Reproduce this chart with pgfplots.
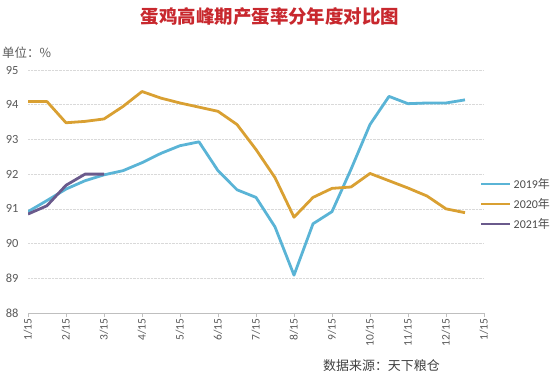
\documentclass[border=0pt]{standalone}
\usepackage{fontspec}
\usepackage{pgfplots}
\usepackage{pgfplotstable}
\pgfplotsset{compat=1.18}
\setmainfont{Carlito}
\newfontfamily\cjk{Noto Sans CJK SC}
\definecolor{c2019}{HTML}{5AB4D6}
\definecolor{c2020}{HTML}{D9A032}
\definecolor{c2021}{HTML}{6A5A8C}
\definecolor{titlered}{HTML}{C8282E}
\definecolor{labelgray}{HTML}{595959}
\definecolor{axisgray}{HTML}{BFBFBF}
\definecolor{gridgray}{HTML}{D9D9D9}

\pgfplotstableread{
m v
0 90.92
0.5 91.24
1 91.57
1.5 91.81
2 91.98
2.5 92.10
3 92.33
3.5 92.60
4 92.82
4.5 92.93
5 92.10
5.5 91.55
6 91.33
6.5 90.48
7 89.09
7.5 90.57
8 90.92
8.5 92.14
9 93.43
9.5 94.24
10 94.03
10.5 94.05
11 94.05
11.5 94.14
}\tabA
\pgfplotstableread{
m v
0 94.09
0.5 94.09
1 93.48
1.5 93.52
2 93.59
2.5 93.95
3 94.38
3.5 94.19
4 94.05
4.5 93.93
5 93.81
5.5 93.43
6 92.71
6.5 91.90
7 90.76
7.5 91.33
8 91.59
8.5 91.63
9 92.02
9.5 91.81
10 91.60
10.5 91.37
11 91.00
11.5 90.89
}\tabB
\pgfplotstableread{
m v
0 90.85
0.5 91.09
1 91.68
1.5 92.00
2 92.00
}\tabC

\begin{document}
\begin{tikzpicture}[x=1bp,y=1bp]
\path[use as bounding box] (0,0) rectangle (552,378);
\node[font=\cjk\bfseries\fontsize{18.5}{18.5}\selectfont, text=titlered] at (270,361) {蛋鸡高峰期产蛋率分年度对比图};
\node[anchor=west, font=\cjk\fontsize{12.5}{12.5}\selectfont, text=labelgray, inner sep=0pt] at (2,325) {单位：\%};
\node[anchor=west, font=\cjk\fontsize{13}{13}\selectfont, text=black!75, inner sep=0pt] at (323,12) {数据来源：天下粮仓};
\begin{axis}[
  at={(28bp,65bp)}, anchor=south west,
  scale only axis, width=456bp, height=243bp,
  xmin=0, xmax=12, ymin=88, ymax=95,
  axis x line*=bottom, axis y line*=left,
  x axis line style={draw=axisgray, line width=0.8bp, -},
  y axis line style={draw=none},
  xtick={0,...,12},
  xticklabels={1/15,2/15,3/15,4/15,5/15,6/15,7/15,8/15,9/15,10/15,11/15,12/15,1/15},
  ytick={88,89,...,95},
  ymajorgrids,
  grid style={densely dotted, gridgray, line width=0.7bp},
  tick align=outside,
  major tick length=4bp,
  xtick style={draw=axisgray, line width=0.8bp},
  ytick style={draw=none},
  xticklabel style={rotate=90, anchor=east, font=\fontsize{11.5}{11.5}\selectfont, text=labelgray, inner sep=1.5bp},
  yticklabel style={font=\fontsize{12.5}{12.5}\selectfont, text=labelgray, xshift=-2bp},
  /pgf/number format/assume math mode=true,
  legend style={at={(0.991,0.449)}, anchor=west, draw=none, fill=none, inner sep=0pt,
    font=\fontsize{12}{12}\selectfont, text=black!70, row sep=4.5bp,
    /tikz/every even column/.append style={column sep=0bp}},
  legend cell align=left,
  legend image code/.code={\draw[#1, line width=2.6bp] (0bp,0bp) -- (29bp,0bp);},
]
\addplot[c2019, line width=2.8bp, line join=round] table[x=m,y=v] {\tabA};
\addlegendentry{2019{\cjk 年}}
\addplot[c2020, line width=2.8bp, line join=round] table[x=m,y=v] {\tabB};
\addlegendentry{2020{\cjk 年}}
\addplot[c2021, line width=2.8bp, line join=round] table[x=m,y=v] {\tabC};
\addlegendentry{2021{\cjk 年}}
\end{axis}
\end{tikzpicture}
\end{document}
